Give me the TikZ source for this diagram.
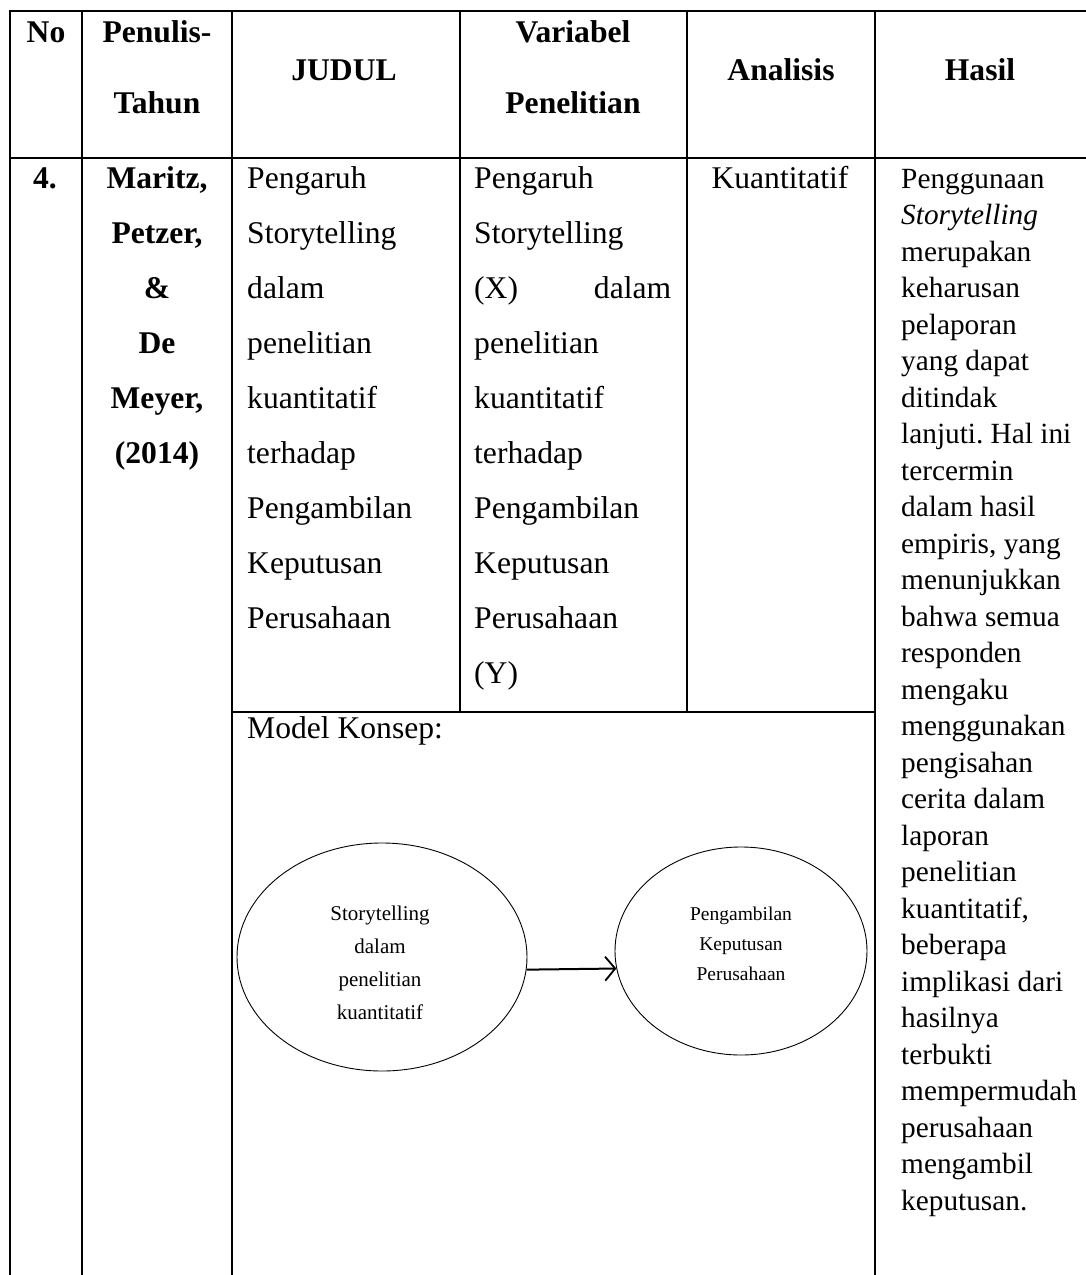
\documentclass[tikz,border=0pt]{standalone}
\usepackage{fontspec}
\setmainfont{Liberation Serif}
\usetikzlibrary{shapes.geometric,arrows.meta}

\begin{document}
\frenchspacing
\begin{tikzpicture}[x=1pt,y=-1pt,
  rule/.style={line width=2.2pt,line cap=rect},
  head/.style={inner sep=0pt,anchor=base,font=\fontsize{31.6}{36}\selectfont\bfseries},
  body/.style={inner sep=0pt,font=\fontsize{31.6}{36}\selectfont},
  bodyb/.style={body,font=\fontsize{31.6}{36}\selectfont\bfseries},
  result/.style={inner sep=0pt,anchor=base west,font=\fontsize{29.3}{34}\selectfont},
  oval/.style={draw,ellipse,line width=0.9pt,inner sep=0pt},
  ovaltext/.style={inner sep=0pt,anchor=base}]

\useasboundingbox (0,0) rectangle (1086,1275);

% table rules
\draw[rule] (10,11) -- (1086,11);
\draw[rule] (10,158) -- (1086,158);
\draw[rule] (10,11) -- (10,1276);
\draw[rule] (82,11) -- (82,1276);
\draw[rule] (232,11) -- (232,1276);
\draw[rule] (460,11) -- (460,712);
\draw[rule] (687,11) -- (687,712);
\draw[rule] (875,11) -- (875,1276);
\draw[rule] (232,712) -- (875,712);

% header row
\node[head] (hno) at (46,42) {No};
\node[head] (hpen1) at (157,42) {Penulis-};
\node[head] (hpen2) at (157,113) {Tahun};
\node[head] (hjud) at (344,80) {JUDUL};
\node[head] (hvar1) at (573,42) {Variabel};
\node[head] (hvar2) at (573,113) {Penelitian};
\node[head] (hana) at (781,80) {Analisis};
\node[head] (hhas) at (980,80) {Hasil};

% number and authors
\node[bodyb,anchor=base] (no) at (45,188) {4.};
\foreach \t [count=\i from 0] in {{Maritz,},{Petzer,},{\&},{De},{Meyer,},{(2014)}}
  \node[bodyb,anchor=base] (au\i) at (157,188+55*\i) {\t};

% title column
\foreach \t [count=\i from 0] in {Pengaruh,Storytelling,dalam,penelitian,kuantitatif,terhadap,Pengambilan,Keputusan,Perusahaan}
  \node[body,anchor=base west] (ju\i) at (247,188+55*\i) {\t};

% variables column
\foreach \t [count=\i from 0] in {Pengaruh,Storytelling,{\makebox[197pt][s]{(X)\hfill dalam}},penelitian,kuantitatif,terhadap,Pengambilan,Keputusan,Perusahaan,(Y)}
  \node[body,anchor=base west] (va\i) at (474,188+55*\i) {\t};

% analysis column
\node[body,anchor=base] (an) at (780,188) {Kuantitatif};

% results column
\foreach \t [count=\i from 0] in {Penggunaan,{\itshape Storytelling},merupakan,keharusan,pelaporan,yang dapat,ditindak,lanjuti. Hal ini,tercermin,dalam hasil,{empiris, yang},menunjukkan,bahwa semua,responden,mengaku,menggunakan,pengisahan,cerita dalam,laporan,penelitian,{kuantitatif,},beberapa,implikasi dari,hasilnya,terbukti,mempermudah,perusahaan,mengambil,keputusan.}
  \node[result] (ha\i) at (901,188+36.5*\i) {\t};

% concept model
\node[body,anchor=base west] (mk) at (247,738) {Model Konsep:};

\node[oval,minimum width=290pt,minimum height=228pt] (x) at (382,957) {};
\node[oval,minimum width=252pt,minimum height=208pt] (y) at (741,951) {};

\foreach \t [count=\i from 0] in {Storytelling,dalam,penelitian,kuantitatif}
  \node[ovaltext,font=\fontsize{21}{25}\selectfont] (xt\i) at (380,920+33*\i) {\t};
\foreach \t [count=\i from 0] in {Pengambilan,Keputusan,Perusahaan}
  \node[ovaltext,font=\fontsize{19.5}{23}\selectfont] (yt\i) at (741,920+30*\i) {\t};

\draw[line width=2pt,-{Straight Barb[length=10pt,width=24pt,line width=1.8pt]}] (x.-5.16) -- (y.188.72);

\end{tikzpicture}
\end{document}
